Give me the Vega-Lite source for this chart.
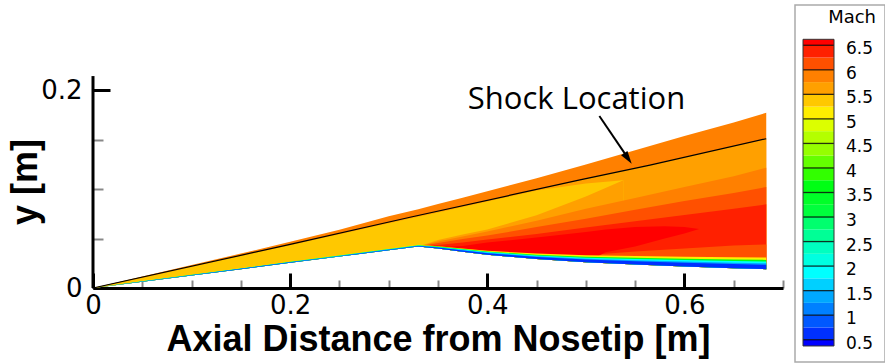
{
  "$schema": "https://vega.github.io/schema/vega-lite/v6.json",
  "padding": {"left": 7, "top": 4, "right": 0, "bottom": 0},
  "spacing": 10,
  "config": {"view": {"stroke": null}, "axis": {"grid": false}},
  "datasets": {
    "field": [
      {"r":"01","m":5.85,"x":0,"lo":0,"hi":0},
      {"r":"01","m":5.85,"x":0.05,"lo":0.00635,"hi":0.0116},
      {"r":"01","m":5.85,"x":0.1,"lo":0.0127,"hi":0.0232},
      {"r":"01","m":5.85,"x":0.15,"lo":0.019,"hi":0.0348},
      {"r":"01","m":5.85,"x":0.2,"lo":0.0254,"hi":0.0466},
      {"r":"01","m":5.85,"x":0.25,"lo":0.0317,"hi":0.0588},
      {"r":"01","m":5.85,"x":0.3,"lo":0.0381,"hi":0.0725},
      {"r":"01","m":5.85,"x":0.33,"lo":0.0418,"hi":0.0795},
      {"r":"01","m":5.85,"x":0.35,"lo":0.0398,"hi":0.0848},
      {"r":"01","m":5.85,"x":0.375,"lo":0.0367,"hi":0.0912},
      {"r":"01","m":5.85,"x":0.4,"lo":0.0337,"hi":0.0978},
      {"r":"01","m":5.85,"x":0.45,"lo":0.0293,"hi":0.111},
      {"r":"01","m":5.85,"x":0.5,"lo":0.026,"hi":0.1248},
      {"r":"01","m":5.85,"x":0.55,"lo":0.0238,"hi":0.1392},
      {"r":"01","m":5.85,"x":0.6,"lo":0.0218,"hi":0.1535},
      {"r":"01","m":5.85,"x":0.65,"lo":0.02,"hi":0.1672},
      {"r":"01","m":5.85,"x":0.683,"lo":0.019,"hi":0.177},

      {"r":"02","m":5.6,"x":0,"lo":0,"hi":0},
      {"r":"02","m":5.6,"x":0.05,"lo":0.00635,"hi":0.011},
      {"r":"02","m":5.6,"x":0.1,"lo":0.0127,"hi":0.0221},
      {"r":"02","m":5.6,"x":0.15,"lo":0.019,"hi":0.0331},
      {"r":"02","m":5.6,"x":0.2,"lo":0.0254,"hi":0.0441},
      {"r":"02","m":5.6,"x":0.25,"lo":0.0317,"hi":0.0551},
      {"r":"02","m":5.6,"x":0.3,"lo":0.0381,"hi":0.0662},
      {"r":"02","m":5.6,"x":0.33,"lo":0.0418,"hi":0.0728},
      {"r":"02","m":5.6,"x":0.35,"lo":0.0398,"hi":0.0772},
      {"r":"02","m":5.6,"x":0.375,"lo":0.0367,"hi":0.0827},
      {"r":"02","m":5.6,"x":0.4,"lo":0.0337,"hi":0.0882},
      {"r":"02","m":5.6,"x":0.45,"lo":0.0293,"hi":0.0992},
      {"r":"02","m":5.6,"x":0.5,"lo":0.026,"hi":0.1103},
      {"r":"02","m":5.6,"x":0.55,"lo":0.0238,"hi":0.1213},
      {"r":"02","m":5.6,"x":0.6,"lo":0.0218,"hi":0.1323},
      {"r":"02","m":5.6,"x":0.65,"lo":0.02,"hi":0.1433},
      {"r":"02","m":5.6,"x":0.683,"lo":0.019,"hi":0.1506},

      {"r":"03","m":5.4,"x":0,"lo":0,"hi":0},
      {"r":"03","m":5.4,"x":0.05,"lo":0.00635,"hi":0.0102},
      {"r":"03","m":5.4,"x":0.1,"lo":0.0127,"hi":0.0213},
      {"r":"03","m":5.4,"x":0.15,"lo":0.019,"hi":0.0323},
      {"r":"03","m":5.4,"x":0.2,"lo":0.0254,"hi":0.0433},
      {"r":"03","m":5.4,"x":0.25,"lo":0.0317,"hi":0.0543},
      {"r":"03","m":5.4,"x":0.3,"lo":0.0381,"hi":0.0654},
      {"r":"03","m":5.4,"x":0.33,"lo":0.0418,"hi":0.072},
      {"r":"03","m":5.4,"x":0.35,"lo":0.0398,"hi":0.0764},
      {"r":"03","m":5.4,"x":0.375,"lo":0.0367,"hi":0.0819},
      {"r":"03","m":5.4,"x":0.4,"lo":0.0337,"hi":0.0874},
      {"r":"03","m":5.4,"x":0.45,"lo":0.0293,"hi":0.0984},
      {"r":"03","m":5.4,"x":0.5,"lo":0.026,"hi":0.1055},
      {"r":"03","m":5.4,"x":0.538,"lo":0.0243,"hi":0.1088},

      {"r":"04","m":5.6,"x":0.33,"lo":0.0418,"hi":0.0418},
      {"r":"04","m":5.6,"x":0.35,"lo":0.0398,"hi":0.0485},
      {"r":"04","m":5.6,"x":0.375,"lo":0.0367,"hi":0.054},
      {"r":"04","m":5.6,"x":0.4,"lo":0.0337,"hi":0.059},
      {"r":"04","m":5.6,"x":0.45,"lo":0.0293,"hi":0.0735},
      {"r":"04","m":5.6,"x":0.5,"lo":0.026,"hi":0.0925},
      {"r":"04","m":5.6,"x":0.538,"lo":0.0243,"hi":0.1088},

      {"r":"05","m":5.85,"x":0.33,"lo":0.0418,"hi":0.0418},
      {"r":"05","m":5.85,"x":0.35,"lo":0.0398,"hi":0.047},
      {"r":"05","m":5.85,"x":0.375,"lo":0.0367,"hi":0.052},
      {"r":"05","m":5.85,"x":0.4,"lo":0.0337,"hi":0.057},
      {"r":"05","m":5.85,"x":0.45,"lo":0.0293,"hi":0.068},
      {"r":"05","m":5.85,"x":0.5,"lo":0.026,"hi":0.08},
      {"r":"05","m":5.85,"x":0.55,"lo":0.0238,"hi":0.091},
      {"r":"05","m":5.85,"x":0.6,"lo":0.0218,"hi":0.102},
      {"r":"05","m":5.85,"x":0.65,"lo":0.02,"hi":0.113},
      {"r":"05","m":5.85,"x":0.683,"lo":0.019,"hi":0.1215},

      {"r":"06","m":6.1,"x":0.33,"lo":0.0418,"hi":0.0418},
      {"r":"06","m":6.1,"x":0.35,"lo":0.0398,"hi":0.0455},
      {"r":"06","m":6.1,"x":0.375,"lo":0.0367,"hi":0.0495},
      {"r":"06","m":6.1,"x":0.4,"lo":0.0337,"hi":0.053},
      {"r":"06","m":6.1,"x":0.45,"lo":0.0293,"hi":0.0615},
      {"r":"06","m":6.1,"x":0.5,"lo":0.026,"hi":0.07},
      {"r":"06","m":6.1,"x":0.55,"lo":0.0238,"hi":0.079},
      {"r":"06","m":6.1,"x":0.6,"lo":0.0218,"hi":0.088},
      {"r":"06","m":6.1,"x":0.65,"lo":0.02,"hi":0.096},
      {"r":"06","m":6.1,"x":0.683,"lo":0.019,"hi":0.102},

      {"r":"07","m":6.4,"x":0.33,"lo":0.0418,"hi":0.0418},
      {"r":"07","m":6.4,"x":0.35,"lo":0.0398,"hi":0.0435},
      {"r":"07","m":6.4,"x":0.375,"lo":0.0367,"hi":0.046},
      {"r":"07","m":6.4,"x":0.4,"lo":0.0337,"hi":0.049},
      {"r":"07","m":6.4,"x":0.45,"lo":0.0293,"hi":0.0545},
      {"r":"07","m":6.4,"x":0.5,"lo":0.026,"hi":0.061},
      {"r":"07","m":6.4,"x":0.55,"lo":0.0238,"hi":0.0675},
      {"r":"07","m":6.4,"x":0.6,"lo":0.0218,"hi":0.0738},
      {"r":"07","m":6.4,"x":0.65,"lo":0.02,"hi":0.08},
      {"r":"07","m":6.4,"x":0.683,"lo":0.019,"hi":0.0845},

      {"r":"08","m":6.1,"x":0.5,"lo":0.026,"hi":0.033},
      {"r":"08","m":6.1,"x":0.55,"lo":0.0238,"hi":0.037},
      {"r":"08","m":6.1,"x":0.6,"lo":0.0218,"hi":0.04},
      {"r":"08","m":6.1,"x":0.65,"lo":0.02,"hi":0.043},
      {"r":"08","m":6.1,"x":0.683,"lo":0.019,"hi":0.044},

      {"r":"09","m":6.6,"x":0.33,"lo":0.0418,"hi":0.0418},
      {"r":"09","m":6.6,"x":0.35,"lo":0.0398,"hi":0.0415},
      {"r":"09","m":6.6,"x":0.375,"lo":0.0367,"hi":0.0425},
      {"r":"09","m":6.6,"x":0.4,"lo":0.0337,"hi":0.046},
      {"r":"09","m":6.6,"x":0.45,"lo":0.0293,"hi":0.051},
      {"r":"09","m":6.6,"x":0.5,"lo":0.026,"hi":0.0565},
      {"r":"09","m":6.6,"x":0.52,"lo":0.036,"hi":0.059},
      {"r":"09","m":6.6,"x":0.55,"lo":0.042,"hi":0.0615},
      {"r":"09","m":6.6,"x":0.58,"lo":0.05,"hi":0.0625},
      {"r":"09","m":6.6,"x":0.6,"lo":0.055,"hi":0.0615},
      {"r":"09","m":6.6,"x":0.615,"lo":0.0595,"hi":0.0595},

      {"r":"10","m":5.1,"x":0,"lo":0,"hi":0},
      {"r":"10","m":5.1,"x":0.05,"lo":0.00635,"hi":0.00695},
      {"r":"10","m":5.1,"x":0.1,"lo":0.0127,"hi":0.0135},
      {"r":"10","m":5.1,"x":0.15,"lo":0.019,"hi":0.02},
      {"r":"10","m":5.1,"x":0.2,"lo":0.0254,"hi":0.0266},
      {"r":"10","m":5.1,"x":0.25,"lo":0.0317,"hi":0.0331},
      {"r":"10","m":5.1,"x":0.3,"lo":0.0381,"hi":0.0397},
      {"r":"10","m":5.1,"x":0.33,"lo":0.0418,"hi":0.0436},
      {"r":"10","m":5.1,"x":0.35,"lo":0.0398,"hi":0.0423},
      {"r":"10","m":5.1,"x":0.375,"lo":0.0367,"hi":0.0399},
      {"r":"10","m":5.1,"x":0.4,"lo":0.0337,"hi":0.0377},
      {"r":"10","m":5.1,"x":0.45,"lo":0.0293,"hi":0.0348},
      {"r":"10","m":5.1,"x":0.5,"lo":0.026,"hi":0.033},
      {"r":"10","m":5.1,"x":0.55,"lo":0.0238,"hi":0.0323},
      {"r":"10","m":5.1,"x":0.6,"lo":0.0218,"hi":0.0316},
      {"r":"10","m":5.1,"x":0.65,"lo":0.02,"hi":0.031},
      {"r":"10","m":5.1,"x":0.683,"lo":0.019,"hi":0.0308},

      {"r":"11","m":3.6,"x":0,"lo":0,"hi":0},
      {"r":"11","m":3.6,"x":0.05,"lo":0.00635,"hi":0.00683},
      {"r":"11","m":3.6,"x":0.1,"lo":0.0127,"hi":0.0133},
      {"r":"11","m":3.6,"x":0.15,"lo":0.019,"hi":0.0198},
      {"r":"11","m":3.6,"x":0.2,"lo":0.0254,"hi":0.0264},
      {"r":"11","m":3.6,"x":0.25,"lo":0.0317,"hi":0.0328},
      {"r":"11","m":3.6,"x":0.3,"lo":0.0381,"hi":0.0394},
      {"r":"11","m":3.6,"x":0.33,"lo":0.0418,"hi":0.0432},
      {"r":"11","m":3.6,"x":0.35,"lo":0.0398,"hi":0.0418},
      {"r":"11","m":3.6,"x":0.375,"lo":0.0367,"hi":0.0393},
      {"r":"11","m":3.6,"x":0.4,"lo":0.0337,"hi":0.0369},
      {"r":"11","m":3.6,"x":0.45,"lo":0.0293,"hi":0.0337},
      {"r":"11","m":3.6,"x":0.5,"lo":0.026,"hi":0.0316},
      {"r":"11","m":3.6,"x":0.55,"lo":0.0238,"hi":0.0306},
      {"r":"11","m":3.6,"x":0.6,"lo":0.0218,"hi":0.0296},
      {"r":"11","m":3.6,"x":0.65,"lo":0.02,"hi":0.0288},
      {"r":"11","m":3.6,"x":0.683,"lo":0.019,"hi":0.0284},

      {"r":"12","m":1.9,"x":0,"lo":0,"hi":0},
      {"r":"12","m":1.9,"x":0.05,"lo":0.00635,"hi":0.00674},
      {"r":"12","m":1.9,"x":0.1,"lo":0.0127,"hi":0.0132},
      {"r":"12","m":1.9,"x":0.15,"lo":0.019,"hi":0.0197},
      {"r":"12","m":1.9,"x":0.2,"lo":0.0254,"hi":0.0262},
      {"r":"12","m":1.9,"x":0.25,"lo":0.0317,"hi":0.0326},
      {"r":"12","m":1.9,"x":0.3,"lo":0.0381,"hi":0.0391},
      {"r":"12","m":1.9,"x":0.33,"lo":0.0418,"hi":0.043},
      {"r":"12","m":1.9,"x":0.35,"lo":0.0398,"hi":0.0414},
      {"r":"12","m":1.9,"x":0.375,"lo":0.0367,"hi":0.0388},
      {"r":"12","m":1.9,"x":0.4,"lo":0.0337,"hi":0.0363},
      {"r":"12","m":1.9,"x":0.45,"lo":0.0293,"hi":0.0329},
      {"r":"12","m":1.9,"x":0.5,"lo":0.026,"hi":0.0306},
      {"r":"12","m":1.9,"x":0.55,"lo":0.0238,"hi":0.0293},
      {"r":"12","m":1.9,"x":0.6,"lo":0.0218,"hi":0.0282},
      {"r":"12","m":1.9,"x":0.65,"lo":0.02,"hi":0.0272},
      {"r":"12","m":1.9,"x":0.683,"lo":0.019,"hi":0.0267},

      {"r":"13","m":1.4,"x":0,"lo":0,"hi":0},
      {"r":"13","m":1.4,"x":0.05,"lo":0.00635,"hi":0.00665},
      {"r":"13","m":1.4,"x":0.1,"lo":0.0127,"hi":0.0131},
      {"r":"13","m":1.4,"x":0.15,"lo":0.019,"hi":0.0195},
      {"r":"13","m":1.4,"x":0.2,"lo":0.0254,"hi":0.026},
      {"r":"13","m":1.4,"x":0.25,"lo":0.0317,"hi":0.0324},
      {"r":"13","m":1.4,"x":0.3,"lo":0.0381,"hi":0.0389},
      {"r":"13","m":1.4,"x":0.33,"lo":0.0418,"hi":0.0427},
      {"r":"13","m":1.4,"x":0.35,"lo":0.0398,"hi":0.041},
      {"r":"13","m":1.4,"x":0.375,"lo":0.0367,"hi":0.0383},
      {"r":"13","m":1.4,"x":0.4,"lo":0.0337,"hi":0.0357},
      {"r":"13","m":1.4,"x":0.45,"lo":0.0293,"hi":0.0321},
      {"r":"13","m":1.4,"x":0.5,"lo":0.026,"hi":0.0295},
      {"r":"13","m":1.4,"x":0.55,"lo":0.0238,"hi":0.0281},
      {"r":"13","m":1.4,"x":0.6,"lo":0.0218,"hi":0.0267},
      {"r":"13","m":1.4,"x":0.65,"lo":0.02,"hi":0.0255},
      {"r":"13","m":1.4,"x":0.683,"lo":0.019,"hi":0.0249},

      {"r":"14","m":0.6,"x":0,"lo":0,"hi":0},
      {"r":"14","m":0.6,"x":0.05,"lo":0.00635,"hi":0.00658},
      {"r":"14","m":0.6,"x":0.1,"lo":0.0127,"hi":0.013},
      {"r":"14","m":0.6,"x":0.15,"lo":0.019,"hi":0.0194},
      {"r":"14","m":0.6,"x":0.2,"lo":0.0254,"hi":0.0259},
      {"r":"14","m":0.6,"x":0.25,"lo":0.0317,"hi":0.0322},
      {"r":"14","m":0.6,"x":0.3,"lo":0.0381,"hi":0.0387},
      {"r":"14","m":0.6,"x":0.33,"lo":0.0418,"hi":0.0425},
      {"r":"14","m":0.6,"x":0.35,"lo":0.0398,"hi":0.0408},
      {"r":"14","m":0.6,"x":0.375,"lo":0.0367,"hi":0.0379},
      {"r":"14","m":0.6,"x":0.4,"lo":0.0337,"hi":0.0352},
      {"r":"14","m":0.6,"x":0.45,"lo":0.0293,"hi":0.0314},
      {"r":"14","m":0.6,"x":0.5,"lo":0.026,"hi":0.0287},
      {"r":"14","m":0.6,"x":0.55,"lo":0.0238,"hi":0.027},
      {"r":"14","m":0.6,"x":0.6,"lo":0.0218,"hi":0.0255},
      {"r":"14","m":0.6,"x":0.65,"lo":0.02,"hi":0.0242},
      {"r":"14","m":0.6,"x":0.683,"lo":0.019,"hi":0.0235}
    ],
    "shock": [
      {"x":0,"y":0},
      {"x":0.2,"y":0.044},
      {"x":0.3216,"y":0.0715},
      {"x":0.494,"y":0.1092},
      {"x":0.565,"y":0.1242},
      {"x":0.683,"y":0.1508}
    ],
    "bands": [
      {"lo":0.372,"hi":0.5,"m":0.43},
      {"lo":0.5,"hi":0.75,"m":0.625},
      {"lo":0.75,"hi":1,"m":0.875},
      {"lo":1,"hi":1.25,"m":1.125},
      {"lo":1.25,"hi":1.5,"m":1.375},
      {"lo":1.5,"hi":1.75,"m":1.625},
      {"lo":1.75,"hi":2,"m":1.875},
      {"lo":2,"hi":2.25,"m":2.125},
      {"lo":2.25,"hi":2.5,"m":2.375},
      {"lo":2.5,"hi":2.75,"m":2.625},
      {"lo":2.75,"hi":3,"m":2.875},
      {"lo":3,"hi":3.25,"m":3.125},
      {"lo":3.25,"hi":3.5,"m":3.375},
      {"lo":3.5,"hi":3.75,"m":3.625},
      {"lo":3.75,"hi":4,"m":3.875},
      {"lo":4,"hi":4.25,"m":4.125},
      {"lo":4.25,"hi":4.5,"m":4.375},
      {"lo":4.5,"hi":4.75,"m":4.625},
      {"lo":4.75,"hi":5,"m":4.875},
      {"lo":5,"hi":5.25,"m":5.125},
      {"lo":5.25,"hi":5.5,"m":5.375},
      {"lo":5.5,"hi":5.75,"m":5.625},
      {"lo":5.75,"hi":6,"m":5.875},
      {"lo":6,"hi":6.25,"m":6.125},
      {"lo":6.25,"hi":6.5,"m":6.375},
      {"lo":6.5,"hi":6.622,"m":6.56}
    ],
    "levels": [
      {"v":0.5},{"v":1},{"v":1.5},{"v":2},{"v":2.5},{"v":3},{"v":3.5},
      {"v":4},{"v":4.5},{"v":5},{"v":5.5},{"v":6},{"v":6.5}
    ]
  },
  "hconcat": [
    {
      "width": 690,
      "height": 283,
      "layer": [
        {
          "data": {"name": "field"},
          "mark": {"type": "area", "interpolate": "linear"},
          "encoding": {
            "x": {
              "field": "x", "type": "quantitative",
              "scale": {"domain": [0, 0.7], "nice": false, "zero": false},
              "axis": {
                "values": [0,0.05,0.1,0.15,0.2,0.25,0.3,0.35,0.4,0.45,0.5,0.55,0.6,0.65,0.7],
                "labelExpr": "abs(datum.value*5 - round(datum.value*5)) < 0.001 ? format(datum.value, '~g') : ''",
                "tickSize": {"condition": {"test": "abs(datum.value*5 - round(datum.value*5)) < 0.001", "value": -15}, "value": -8},
                "tickWidth": {"condition": {"test": "abs(datum.value*5 - round(datum.value*5)) < 0.001", "value": 3}, "value": 2},
                "tickColor": {"condition": {"test": "abs(datum.value*5 - round(datum.value*5)) < 0.001", "value": "#000000"}, "value": "#888888"},
                "domainColor": "#000000", "domainWidth": 3,
                "labelFont": "DejaVu Sans", "labelFontSize": 26, "labelColor": "#000000",
                "labelPadding": 19, "labelFlush": false, "labelOverlap": false,
                "title": "Axial Distance from Nosetip [m]",
                "titleFont": "Liberation Sans", "titleFontSize": 36, "titleFontWeight": "bold",
                "titleColor": "#000000", "titlePadding": -3
              }
            },
            "y": {
              "field": "lo", "type": "quantitative", "stack": null,
              "scale": {"domain": [0, 0.2859], "nice": false, "zero": false},
              "axis": {
                "values": [0,0.05,0.1,0.15,0.2],
                "labelExpr": "abs(datum.value*5 - round(datum.value*5)) < 0.001 ? format(datum.value, '~g') : ''",
                "tickSize": {"condition": {"test": "abs(datum.value*5 - round(datum.value*5)) < 0.001", "value": -17}, "value": -10},
                "tickWidth": {"condition": {"test": "abs(datum.value*5 - round(datum.value*5)) < 0.001", "value": 3}, "value": 2},
                "tickColor": {"condition": {"test": "abs(datum.value*5 - round(datum.value*5)) < 0.001", "value": "#000000"}, "value": "#888888"},
                "domain": false,
                "labelFont": "DejaVu Sans", "labelFontSize": 26, "labelColor": "#000000",
                "labelPadding": 28, "labelFlush": false, "labelOverlap": false,
                "title": "y [m]",
                "titleFont": "Liberation Sans", "titleFontSize": 36, "titleFontWeight": "bold",
                "titleColor": "#000000", "titlePadding": -4, "titleY": 176.5
              }
            },
            "y2": {"field": "hi"},
            "color": {
              "field": "m", "type": "quantitative", "legend": null,
              "scale": {
                "type": "threshold",
                "domain": [0.5,0.75,1,1.25,1.5,1.75,2,2.25,2.5,2.75,3,3.25,3.5,3.75,4,4.25,4.5,4.75,5,5.25,5.5,5.75,6,6.25,6.5],
                "range": ["#0000ff","#0030ff","#0058ff","#0080ff","#00a8ff","#00d0ff","#00ffff","#00ffe0","#00ffc0","#00ff96","#00ff6e","#00ff3c","#00ff28","#00ff14","#32ff00","#64ff00","#96ff00","#b4ff00","#dcff00","#ffee00","#ffc800","#ffa000","#ff8000","#ff5000","#ff2000","#ff0000"]
              }
            },
            "detail": {"field": "r", "type": "nominal"}
          }
        },
        {
          "data": {"name": "shock"},
          "mark": {"type": "line", "color": "#000000", "strokeWidth": 1.2},
          "encoding": {
            "x": {"field": "x", "type": "quantitative"},
            "y": {"field": "y", "type": "quantitative"}
          }
        },
        {
          "data": {"values": [{}]},
          "mark": {"type": "rule", "color": "#000000", "strokeWidth": 3},
          "encoding": {
            "x": {"datum": 0, "type": "quantitative"},
            "y": {"datum": 0, "type": "quantitative"},
            "y2": {"datum": 0.2141}
          }
        },
        {
          "data": {"values": [{}]},
          "mark": {"type": "rule", "color": "#000000", "strokeWidth": 2},
          "encoding": {
            "x": {"datum": 0.5137, "type": "quantitative"},
            "y": {"datum": 0.1737, "type": "quantitative"},
            "x2": {"datum": 0.5415},
            "y2": {"datum": 0.133}
          }
        },
        {
          "data": {"values": [{}]},
          "mark": {"type": "point", "shape": "M0,0L-0.6,-2L0.6,-2Z", "filled": true, "color": "#000000", "opacity": 1, "size": 169, "angle": 325},
          "encoding": {
            "x": {"datum": 0.5465, "type": "quantitative"},
            "y": {"datum": 0.1255, "type": "quantitative"}
          }
        },
        {
          "data": {"values": [{}]},
          "mark": {"type": "text", "text": "Shock Location", "font": "Open Sans", "fontSize": 31, "align": "center", "baseline": "alphabetic", "color": "#000000"},
          "encoding": {
            "x": {"datum": 0.4905, "type": "quantitative"},
            "y": {"datum": 0.181, "type": "quantitative"}
          }
        }
      ]
    },
    {
      "width": 90,
      "height": 357,
      "view": {"stroke": "#aaaaaa", "strokeWidth": 1.5},
      "layer": [
        {
          "data": {"name": "bands"},
          "mark": {"type": "rect"},
          "encoding": {
            "x": {"datum": 8, "type": "quantitative", "scale": {"domain": [0, 90], "nice": false, "zero": false}, "axis": null},
            "x2": {"datum": 39},
            "y": {"field": "lo", "type": "quantitative", "scale": {"domain": [0.0455, 7.321], "nice": false, "zero": false}, "axis": null},
            "y2": {"field": "hi"},
            "color": {
              "field": "m", "type": "quantitative", "legend": null,
              "scale": {
                "type": "threshold",
                "domain": [0.5,0.75,1,1.25,1.5,1.75,2,2.25,2.5,2.75,3,3.25,3.5,3.75,4,4.25,4.5,4.75,5,5.25,5.5,5.75,6,6.25,6.5],
                "range": ["#0000ff","#0030ff","#0058ff","#0080ff","#00a8ff","#00d0ff","#00ffff","#00ffe0","#00ffc0","#00ff96","#00ff6e","#00ff3c","#00ff28","#00ff14","#32ff00","#64ff00","#96ff00","#b4ff00","#dcff00","#ffee00","#ffc800","#ffa000","#ff8000","#ff5000","#ff2000","#ff0000"]
              }
            }
          }
        },
        {
          "data": {"name": "levels"},
          "mark": {"type": "rule", "color": "#000000", "strokeWidth": 1.3, "opacity": 0.8},
          "encoding": {
            "x": {"datum": 8, "type": "quantitative", "axis": null},
            "x2": {"datum": 39},
            "y": {"field": "v", "type": "quantitative", "axis": null}
          }
        },
        {
          "data": {"values": [{}]},
          "mark": {"type": "rect", "fill": null, "filled": false, "stroke": "#333333", "strokeWidth": 1},
          "encoding": {
            "x": {"datum": 8, "type": "quantitative", "axis": null},
            "x2": {"datum": 39},
            "y": {"datum": 0.372, "type": "quantitative", "axis": null},
            "y2": {"datum": 6.622}
          }
        },
        {
          "data": {"name": "levels"},
          "mark": {"type": "text", "font": "DejaVu Sans", "fontSize": 17, "align": "left", "baseline": "middle", "dy": 4, "color": "#000000"},
          "encoding": {
            "x": {"datum": 51, "type": "quantitative", "axis": null},
            "y": {"field": "v", "type": "quantitative", "axis": null},
            "text": {"field": "v", "type": "quantitative", "format": "~g"}
          }
        },
        {
          "data": {"values": [{}]},
          "mark": {"type": "text", "text": "Mach", "font": "DejaVu Sans", "fontSize": 18, "align": "right", "baseline": "middle", "color": "#000000"},
          "encoding": {
            "x": {"datum": 81, "type": "quantitative", "axis": null},
            "y": {"datum": 7.046, "type": "quantitative", "axis": null}
          }
        }
      ]
    }
  ]
}
